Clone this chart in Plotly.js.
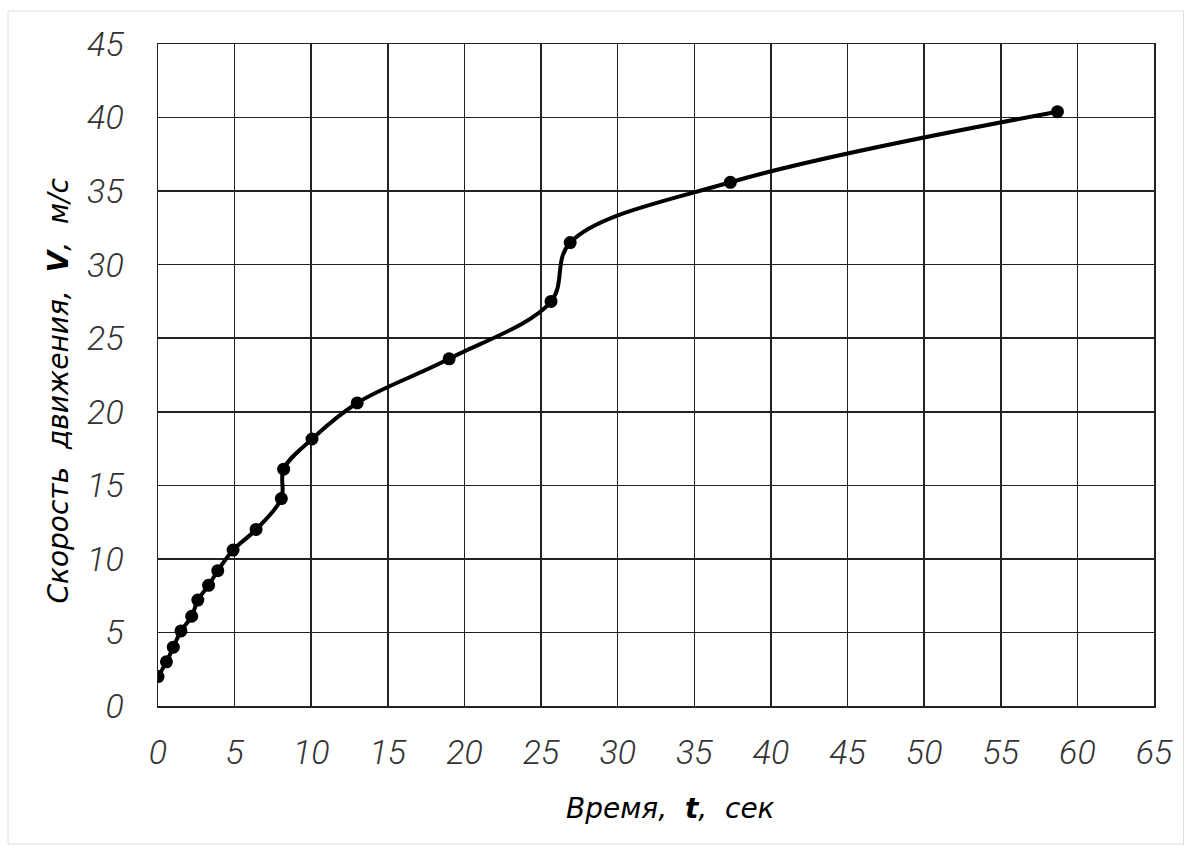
<!DOCTYPE html>
<html>
<head>
<meta charset="utf-8">
<script src="https://cdn.plot.ly/plotly-3.0.1.min.js"></script>
<style>html,body{margin:0;padding:0;background:#fff;}#chart{width:1190px;height:850px;}</style>
</head>
<body>
<div id="chart"></div>
<script>
// Время t, сек
const timeSec = [0, 0.55, 1.0, 1.5, 2.2, 2.6, 3.3, 3.9, 4.9, 6.4, 8.05, 8.2, 10.05, 13.0, 19.0, 25.65, 26.9, 37.35, 58.7];
// Скорость V, м/с
const speed = [2.0, 3.0, 4.0, 5.1, 6.1, 7.2, 8.2, 9.2, 10.6, 12.0, 14.1, 16.1, 18.15, 20.6, 23.6, 27.5, 31.5, 35.6, 40.4];
const xTicks = [0, 5, 10, 15, 20, 25, 30, 35, 40, 45, 50, 55, 60, 65];
const yTicks = [0, 5, 10, 15, 20, 25, 30, 35, 40, 45];
const xTitle = 'Время,  <b>t</b>,  сек';
const yTitle = 'Скорость  движения,  <b>V</b>,  м/с';

const PW = 996.5, PH = 662;
const tickFont = {family: 'Roboto, "DejaVu Sans", sans-serif', size: 34, color: '#333', style: 'italic', weight: 300};
const titleFont = {family: '"DejaVu Sans", sans-serif', size: 28, color: '#000', style: 'italic'};

const trace = {
  x: timeSec, y: speed, type: 'scatter', mode: 'lines+markers',
  line: {color: '#000', width: 4, shape: 'spline', smoothing: 1},
  marker: {color: '#000', size: 13},
  hoverinfo: 'x+y', showlegend: false
};

const layout = {
  width: 1190, height: 850,
  paper_bgcolor: '#fff', plot_bgcolor: '#fff',
  margin: {l: 157.5, r: 36, t: 44, b: 144},
  xaxis: {
    range: [0, 65], tickvals: xTicks, ticktext: xTicks.map(String),
    showgrid: true, gridcolor: '#222', gridwidth: 1.5,
    zeroline: false, showline: true, linecolor: '#222', linewidth: 1.5, mirror: true,
    ticks: '', ticklabelstandoff: 16, tickfont: tickFont
  },
  yaxis: {
    range: [0, 45], tickvals: yTicks, ticktext: yTicks.map(String),
    showgrid: true, gridcolor: '#222', gridwidth: 1.5,
    zeroline: false, showline: true, linecolor: '#222', linewidth: 1.5, mirror: true,
    ticks: '', ticklabelstandoff: 26, tickfont: tickFont
  },
  annotations: [
    {text: xTitle, xref: 'paper', yref: 'paper', x: (670 - 157.5) / PW, y: -(808 - 706) / PH,
     xanchor: 'center', yanchor: 'middle', showarrow: false, font: titleFont},
    {text: yTitle, xref: 'paper', yref: 'paper', x: -(157.5 - 57) / PW, y: (706 - 391) / PH,
     xanchor: 'center', yanchor: 'middle', showarrow: false, textangle: -90, font: titleFont}
  ],
  shapes: [{
    type: 'rect', xref: 'paper', yref: 'paper',
    x0: -150 / PW, x1: 1026 / PW, y0: -138 / PH, y1: 1 + 33 / PH,
    line: {color: '#dddddd', width: 1}, layer: 'below'
  }]
};

Plotly.newPlot('chart', [trace], layout, {displayModeBar: false, staticPlot: true});
</script>
</body>
</html>
